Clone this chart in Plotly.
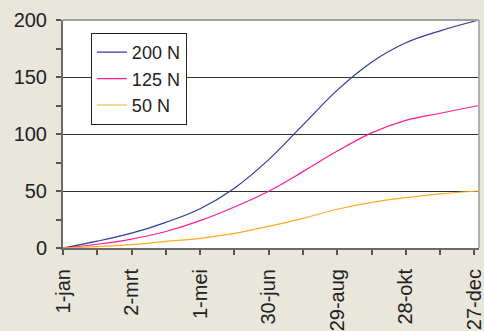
import plotly.graph_objects as go

# day of year (0 = 1-jan)
days = [0, 30, 60, 90, 120, 150, 180, 210, 240, 270, 300, 330, 364]
n200 = [0, 6, 13, 22.5, 34.5, 52.5, 77.5, 108, 138.5, 163, 180, 190.5, 200]
n125 = [0, 3.3, 7.8, 14.5, 24, 36, 49.8, 67, 85, 101, 112, 118.2, 125]
n50 = [0, 1.2, 3, 5.8, 8.5, 12.8, 19, 26, 34, 40, 44.2, 47.5, 50]

tick_days = [0, 60, 120, 180, 240, 300, 360]
tick_labels = ["1-jan", "2-mrt", "1-mei", "30-jun", "29-aug", "28-okt", "27-dec"]
minor_days = [30, 90, 150, 210, 270, 330]

series = [("200 N", n200, "#2e3c9c"), ("125 N", n125, "#ff1a96"), ("50 N", n50, "#ffab24")]

FONT = "Liberation Sans, Arial, sans-serif"

fig = go.Figure()
for name, vals, col in series:
    fig.add_trace(go.Scatter(x=days, y=vals, name=name, mode="lines",
                             line=dict(color=col, width=1.2, shape="spline", smoothing=1.0)))

fig.update_layout(
    width=484, height=331,
    margin=dict(l=63, r=5, t=20, b=83),
    paper_bgcolor="#e9e7db",
    plot_bgcolor="white",
    font=dict(family=FONT, size=19, color="#222222"),
    showlegend=True,
    legend=dict(x=0.067, y=0.943, xanchor="left", yanchor="top",
                bgcolor="white", bordercolor="#222222", borderwidth=1,
                font=dict(size=18), itemwidth=30, tracegroupgap=0),
    xaxis=dict(range=[0, 364], tickmode="array", tickvals=tick_days, ticktext=tick_labels,
               tickangle=-90, ticks="outside", ticklen=5, tickcolor="#555555", tickwidth=1.5,
               minor=dict(tickvals=minor_days, ticks="outside", ticklen=5, tickcolor="#555555", tickwidth=1.5),
               showline=True, linecolor="#6a6a6a", linewidth=2, showgrid=False, zeroline=False,
               automargin=False, ticklabeloverflow="allow", ticklabelstandoff=6,
               tickfont=dict(size=20, family=FONT)),
    yaxis=dict(range=[0, 200], tickmode="array", tickvals=[0, 50, 100, 150, 200],
               ticks="outside", ticklen=5, tickcolor="#555555", tickwidth=1.5,
               minor=dict(tickvals=[25, 75, 125, 175], ticks="outside", ticklen=5, tickcolor="#555555", tickwidth=1.5, showgrid=False),
               showline=True, linecolor="#6a6a6a", linewidth=2, showgrid=True,
               gridcolor="#333333", gridwidth=1, zeroline=False,
               automargin=False, ticklabelstandoff=5,
               tickfont=dict(size=20, family=FONT)),
    shapes=[
        dict(type="line", xref="paper", yref="paper", x0=0, x1=1, y0=1, y1=1,
             line=dict(color="#a0a0a0", width=2)),
        dict(type="line", xref="paper", yref="paper", x0=1, x1=1, y0=0, y1=1,
             line=dict(color="#b0b0b0", width=2)),
    ],
)

fig.write_html("out.html", config={"displayModeBar": False},
               post_script="document.body.style.margin='0';document.body.style.overflow='hidden';")
